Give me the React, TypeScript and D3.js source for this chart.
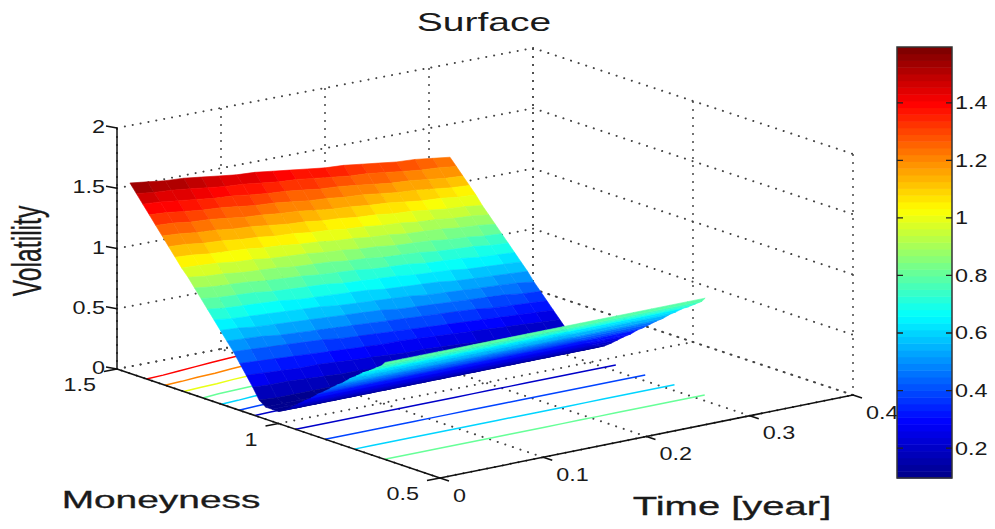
import React from 'react'
import * as d3 from 'd3'

// surface grid
const moneyness = [1.46, 1.44, 1.42, 1.4, 1.38, 1.36, 1.34, 1.32, 1.3, 1.28, 1.26, 1.24, 1.22, 1.2, 1.18, 1.16, 1.14, 1.12, 1.1, 1.08, 1.06, 1.04, 1.02, 1.0, 0.98, 0.96, 0.94, 0.92, 0.9, 0.88, 0.86, 0.84, 0.82, 0.8, 0.78, 0.76, 0.74, 0.72, 0.7, 0.68, 0.67]
const times = [0, 0.017, 0.034, 0.052, 0.069, 0.086, 0.103, 0.121, 0.138, 0.155, 0.172, 0.189, 0.207, 0.224, 0.241, 0.258, 0.276, 0.293, 0.31]
const vol = [
  [1.58, 1.56, 1.54, 1.53, 1.51, 1.49, 1.47, 1.46, 1.44, 1.42, 1.4, 1.38, 1.37, 1.35, 1.33, 1.31, 1.3, 1.28, 1.26],
  [1.51, 1.49, 1.48, 1.46, 1.44, 1.42, 1.41, 1.39, 1.37, 1.36, 1.34, 1.32, 1.3, 1.29, 1.27, 1.25, 1.23, 1.22, 1.2],
  [1.44, 1.43, 1.41, 1.39, 1.37, 1.36, 1.34, 1.32, 1.31, 1.29, 1.27, 1.26, 1.24, 1.22, 1.2, 1.19, 1.17, 1.15, 1.14],
  [1.37, 1.36, 1.34, 1.32, 1.31, 1.29, 1.27, 1.26, 1.24, 1.22, 1.21, 1.19, 1.18, 1.16, 1.14, 1.13, 1.11, 1.09, 1.08],
  [1.3, 1.29, 1.27, 1.26, 1.24, 1.22, 1.21, 1.19, 1.18, 1.16, 1.14, 1.13, 1.11, 1.1, 1.08, 1.06, 1.05, 1.03, 1.02],
  [1.23, 1.22, 1.2, 1.19, 1.17, 1.16, 1.14, 1.12, 1.11, 1.09, 1.08, 1.06, 1.05, 1.03, 1.02, 1.0, 0.98, 0.97, 0.95],
  [1.16, 1.15, 1.13, 1.12, 1.1, 1.09, 1.07, 1.06, 1.04, 1.03, 1.01, 1.0, 0.98, 0.97, 0.95, 0.94, 0.92, 0.91, 0.89],
  [1.09, 1.08, 1.06, 1.05, 1.04, 1.02, 1.01, 0.99, 0.98, 0.96, 0.95, 0.93, 0.92, 0.9, 0.89, 0.88, 0.86, 0.85, 0.83],
  [1.02, 1.01, 1.0, 0.98, 0.97, 0.95, 0.94, 0.93, 0.91, 0.9, 0.88, 0.87, 0.85, 0.84, 0.83, 0.81, 0.8, 0.78, 0.77],
  [0.96, 0.94, 0.93, 0.91, 0.9, 0.89, 0.87, 0.86, 0.85, 0.83, 0.82, 0.8, 0.79, 0.78, 0.76, 0.75, 0.74, 0.72, 0.71],
  [0.89, 0.87, 0.86, 0.85, 0.83, 0.82, 0.81, 0.79, 0.78, 0.77, 0.75, 0.74, 0.73, 0.71, 0.7, 0.69, 0.67, 0.66, 0.65],
  [0.82, 0.8, 0.79, 0.78, 0.76, 0.75, 0.74, 0.73, 0.71, 0.7, 0.69, 0.68, 0.66, 0.65, 0.64, 0.62, 0.61, 0.6, 0.59],
  [0.75, 0.73, 0.72, 0.71, 0.7, 0.68, 0.67, 0.66, 0.65, 0.64, 0.62, 0.61, 0.6, 0.59, 0.57, 0.56, 0.55, 0.54, 0.53],
  [0.68, 0.66, 0.65, 0.64, 0.63, 0.62, 0.61, 0.59, 0.58, 0.57, 0.56, 0.55, 0.53, 0.52, 0.51, 0.5, 0.49, 0.48, 0.46],
  [0.61, 0.6, 0.58, 0.57, 0.56, 0.55, 0.54, 0.53, 0.52, 0.51, 0.49, 0.48, 0.47, 0.46, 0.45, 0.44, 0.43, 0.41, 0.4],
  [0.54, 0.53, 0.52, 0.5, 0.49, 0.48, 0.47, 0.46, 0.45, 0.44, 0.43, 0.42, 0.41, 0.4, 0.39, 0.37, 0.36, 0.35, 0.34],
  [0.47, 0.46, 0.45, 0.44, 0.43, 0.42, 0.4, 0.39, 0.38, 0.37, 0.36, 0.35, 0.34, 0.33, 0.32, 0.31, 0.3, 0.29, 0.28],
  [0.39, 0.38, 0.37, 0.36, 0.35, 0.34, 0.33, 0.32, 0.31, 0.31, 0.3, 0.29, 0.28, 0.27, 0.26, 0.25, 0.24, 0.23, 0.22],
  [0.31, 0.3, 0.29, 0.28, 0.28, 0.27, 0.26, 0.25, 0.24, 0.23, 0.23, 0.22, 0.21, 0.2, 0.19, 0.18, 0.18, 0.17, 0.16],
  [0.23, 0.22, 0.22, 0.21, 0.2, 0.19, 0.19, 0.18, 0.17, 0.17, 0.16, 0.15, 0.14, 0.14, 0.13, 0.12, 0.12, 0.11, 0.1],
  [0.14, 0.13, 0.13, 0.13, 0.13, 0.13, 0.12, 0.12, 0.12, 0.12, 0.12, 0.12, 0.11, 0.11, 0.11, 0.11, 0.1, 0.1, 0.1],
  [0.1, 0.1, 0.1, 0.1, 0.1, 0.1, 0.1, 0.1, 0.1, 0.1, 0.1, 0.1, 0.1, 0.1, 0.1, 0.1, 0.1, 0.1, 0.1],
  [0.1, 0.1, 0.1, 0.1, 0.1, 0.1, 0.1, 0.1, 0.1, 0.1, 0.1, 0.1, 0.1, 0.1, 0.1, 0.1, 0.1, 0.1, 0.1],
  [0.1, 0.1, 0.1, 0.1, 0.1, 0.1, 0.1, 0.1, 0.1, 0.1, 0.1, 0.1, 0.1, 0.1, 0.1, 0.1, 0.1, 0.1, 0.1],
  [0.13, 0.13, 0.13, 0.13, 0.13, 0.13, 0.13, 0.13, 0.13, 0.13, 0.13, 0.13, 0.13, 0.13, 0.13, 0.13, 0.13, 0.13, 0.13],
  [0.17, 0.17, 0.17, 0.17, 0.17, 0.17, 0.17, 0.17, 0.17, 0.17, 0.17, 0.17, 0.17, 0.17, 0.17, 0.17, 0.17, 0.17, 0.17],
  [0.215, 0.215, 0.215, 0.215, 0.215, 0.215, 0.215, 0.215, 0.215, 0.215, 0.215, 0.215, 0.215, 0.215, 0.215, 0.215, 0.215, 0.215, 0.215],
  [0.26, 0.26, 0.26, 0.26, 0.26, 0.26, 0.26, 0.26, 0.26, 0.26, 0.26, 0.26, 0.26, 0.26, 0.26, 0.26, 0.26, 0.26, 0.26],
  [0.3, 0.3, 0.3, 0.3, 0.3, 0.3, 0.3, 0.3, 0.3, 0.3, 0.3, 0.3, 0.3, 0.3, 0.3, 0.3, 0.3, 0.3, 0.3],
  [0.35, 0.35, 0.35, 0.35, 0.35, 0.35, 0.35, 0.35, 0.35, 0.35, 0.35, 0.35, 0.35, 0.35, 0.35, 0.35, 0.35, 0.35, 0.35],
  [0.39, 0.39, 0.39, 0.39, 0.39, 0.39, 0.39, 0.39, 0.39, 0.39, 0.39, 0.39, 0.39, 0.39, 0.39, 0.39, 0.39, 0.39, 0.39],
  [0.435, 0.435, 0.435, 0.435, 0.435, 0.435, 0.435, 0.435, 0.435, 0.435, 0.435, 0.435, 0.435, 0.435, 0.435, 0.435, 0.435, 0.435, 0.435],
  [0.48, 0.48, 0.48, 0.48, 0.48, 0.48, 0.48, 0.48, 0.48, 0.48, 0.48, 0.48, 0.48, 0.48, 0.48, 0.48, 0.48, 0.48, 0.48],
  [0.52, 0.52, 0.52, 0.52, 0.52, 0.52, 0.52, 0.52, 0.52, 0.52, 0.52, 0.52, 0.52, 0.52, 0.52, 0.52, 0.52, 0.52, 0.52],
  [0.57, 0.57, 0.57, 0.57, 0.57, 0.57, 0.57, 0.57, 0.57, 0.57, 0.57, 0.57, 0.57, 0.57, 0.57, 0.57, 0.57, 0.57, 0.57],
  [0.61, 0.61, 0.61, 0.61, 0.61, 0.61, 0.61, 0.61, 0.61, 0.61, 0.61, 0.61, 0.61, 0.61, 0.61, 0.61, 0.61, 0.61, 0.61],
  [0.655, 0.655, 0.655, 0.655, 0.655, 0.655, 0.655, 0.655, 0.655, 0.655, 0.655, 0.655, 0.655, 0.655, 0.655, 0.655, 0.655, 0.655, 0.655],
  [0.69, 0.69, 0.69, 0.69, 0.69, 0.69, 0.69, 0.69, 0.69, 0.69, 0.69, 0.69, 0.69, 0.69, 0.69, 0.69, 0.69, 0.69, 0.69],
  [0.73, 0.73, 0.73, 0.73, 0.73, 0.73, 0.73, 0.73, 0.73, 0.73, 0.73, 0.73, 0.73, 0.73, 0.73, 0.73, 0.73, 0.73, 0.73],
  [0.77, 0.77, 0.77, 0.77, 0.77, 0.77, 0.77, 0.77, 0.77, 0.77, 0.77, 0.77, 0.77, 0.77, 0.77, 0.77, 0.77, 0.77, 0.77],
  [0.805, 0.805, 0.805, 0.805, 0.805, 0.805, 0.805, 0.805, 0.805, 0.805, 0.805, 0.805, 0.805, 0.805, 0.805, 0.805, 0.805, 0.805, 0.805],
]

const contourLevels = [0.2, 0.4, 0.6, 0.8, 1, 1.2, 1.4]
const timeTicks = [0, 0.1, 0.2, 0.3, 0.4]
const moneyTicks = [0.5, 1, 1.5]
const volTicks = [0, 0.5, 1, 1.5, 2]
const colorbarTicks = [0.2, 0.4, 0.6, 0.8, 1, 1.2, 1.4]
const colorDomain = [0.096, 1.594]

// oblique view: each data axis gets its own pixel scales
const tx = d3.scaleLinear().domain([0, 0.4]).range([0, 413])
const ty = d3.scaleLinear().domain([0, 0.4]).range([0, -83])
const mx = d3.scaleLinear().domain([0.5, 1.5]).range([440, 117])
const my = d3.scaleLinear().domain([0.5, 1.5]).range([478, 369])
const zy = d3.scaleLinear().domain([0, 2]).range([0, -241])
const cbY = d3.scaleLinear().domain(colorDomain).range([478, 47])

const project = (t: number, m: number, z: number): [number, number] => [
  mx(m) + tx(t),
  my(m) + ty(t) + zy(z),
]
// the box has a little perspective towards its far corner
const projectBox = (t: number, m: number, z: number): [number, number] => {
  const warp = 3 * (m - 0.5) * (t / 0.4)
  const [x, y] = project(t, m, z)
  return [x + warp, y + warp]
}

const jetRamp = d3.scaleLinear<string>()
  .domain([0, 0.125, 0.375, 0.625, 0.875, 1])
  .range(['#00008f', '#0000ff', '#00ffff', '#ffff00', '#ff0000', '#800000'])
  .clamp(true)
const levelCount = 64
const colorIndex = d3.scaleQuantize<number>().domain(colorDomain).range(d3.range(levelCount))
const jet = (v: number) => jetRamp(colorIndex(v) / (levelCount - 1))

const line = d3.line()
const path3 = (pts: [number, number, number][]) => line(pts.map(p => project(p[0], p[1], p[2]))) || ''
const pathBox = (pts: [number, number, number][]) => line(pts.map(p => projectBox(p[0], p[1], p[2]))) || ''

// walk the time columns, find where a level crosses between two moneyness rows
function contourLines(level: number) {
  const falling: [number, number, number][] = []
  const rising: [number, number, number][] = []
  times.forEach((t, j) => {
    for (let i = 0; i < moneyness.length - 1; i++) {
      const a = vol[i][j]
      const b = vol[i + 1][j]
      if (a === b) continue
      const f = (level - a) / (b - a)
      if (f < 0 || f > 1) continue
      const m = moneyness[i] + f * (moneyness[i + 1] - moneyness[i])
      if (a > b) falling.push([t, m, 0])
      else rising.push([t, m, 0])
    }
  })
  return [falling, rising].filter(l => l.length > 1)
}

const facets = d3.range(moneyness.length - 1).flatMap(i =>
  d3.range(times.length - 1).reverse().map(j => ({
    key: `${i}-${j}`,
    color: jet((vol[i][j] + vol[i + 1][j] + vol[i][j + 1] + vol[i + 1][j + 1]) / 4),
    d: path3([
      [times[j], moneyness[i], vol[i][j]],
      [times[j + 1], moneyness[i], vol[i][j + 1]],
      [times[j + 1], moneyness[i + 1], vol[i + 1][j + 1]],
      [times[j], moneyness[i + 1], vol[i + 1][j]],
    ]) + 'Z',
  }))
)

const FONT = '"Liberation Sans", Arial, sans-serif'

function Label({ x, y, text, size = 18, sx = 1.3, sy = 1, rot = 0, anchor = 'middle', bold = 0 }: any) {
  return (
    <text
      transform={`translate(${x},${y}) scale(${sx},${sy}) rotate(${rot})`}
      fontFamily={FONT}
      fontSize={size}
      textAnchor={anchor}
      fill="#1a1a1a"
      stroke={bold ? '#1a1a1a' : 'none'}
      strokeWidth={bold}
    >
      {text}
    </text>
  )
}

const gridStyle = { stroke: '#444', strokeWidth: 2, strokeDasharray: '0.1 7.9', strokeLinecap: 'round' as const, fill: 'none' }

export default function App() {
  const t0 = timeTicks[0]
  const t1 = timeTicks[timeTicks.length - 1]
  const m0 = moneyTicks[0]
  const m1 = moneyTicks[moneyTicks.length - 1]
  const z0 = volTicks[0]
  const z1 = volTicks[volTicks.length - 1]

  const grid: string[] = []
  timeTicks.forEach(t => {
    grid.push(pathBox([[t, m0, z0], [t, m1, z0]]))
    grid.push(pathBox([[t, m1, z0], [t, m1, z1]]))
  })
  moneyTicks.forEach(m => {
    grid.push(pathBox([[t0, m, z0], [t1, m, z0]]))
    grid.push(pathBox([[t1, m, z0], [t1, m, z1]]))
  })
  volTicks.forEach(z => {
    grid.push(pathBox([[t0, m1, z], [t1, m1, z]]))
    grid.push(pathBox([[t1, m1, z], [t1, m0, z]]))
  })

  return (
    <svg width={995} height={529} style={{ position: 'absolute', left: 0, top: 0, background: '#fff' }}>
      <g>{grid.map((d, i) => <path key={i} d={d} {...gridStyle} />)}</g>

      <g fill="none" strokeWidth={1.5}>
        {contourLevels.flatMap(level =>
          contourLines(level).map((pts, i) => (
            <path key={`${level}-${i}`} d={path3(pts)} stroke={jet(level)} />
          ))
        )}
      </g>

      <g>{facets.map(f => <path key={f.key} d={f.d} fill={f.color} stroke={f.color} strokeWidth={0.6} />)}</g>

      <g fill="none" stroke="#111" strokeWidth={1.5}>
        <path d={path3([[t0, m1, z0], [t0, m1, z1]])} />
        <path d={path3([[t0, m0, z0], [t0, m1, z0]])} />
        <path d={path3([[t0, m0, z0], [t1, m0, z0]])} />
        {volTicks.map(z => {
          const [x, y] = project(t0, m1, z)
          return <path key={z} d={`M${x},${y}L${x - 11},${y - 2}`} />
        })}
        {moneyTicks.map(m => {
          const [x, y] = project(t0, m, z0)
          return <path key={m} d={`M${x},${y}L${x - 13},${y + 2.5}`} />
        })}
        {timeTicks.map(t => {
          const [x, y] = project(t, m0, z0)
          return <path key={t} d={`M${x},${y}L${x + 9},${y + 3}`} />
        })}
      </g>

      {volTicks.map(z => {
        const [x, y] = project(t0, m1, z)
        return <Label key={z} x={x - 12} y={y + 5} text={String(z)} anchor="end" />
      })}
      {moneyTicks.map(m => {
        const [x, y] = project(t0, m, z0)
        return <Label key={m} x={x - 21} y={y + 22} text={String(m)} anchor="end" />
      })}
      {timeTicks.map(t => {
        const [x, y] = project(t, m0, z0)
        return <Label key={t} x={x + 13} y={y + 23.5} text={String(t)} anchor="start" />
      })}

      <Label x={484} y={31} text="Surface" size={26} sx={1.5} />
      <Label x={161} y={508} text="Moneyness" size={24} sx={1.62} bold={0.3} />
      <Label x={732} y={515} text="Time [year]" size={25} sx={1.6} bold={0.3} />
      <Label x={41} y={251} text="Volatility" size={24} sx={1.7} sy={1.03} rot={-90} bold={0.2} />

      <g>
        {d3.range(levelCount).map(i => {
          const lo = colorDomain[0] + (i * (colorDomain[1] - colorDomain[0])) / levelCount
          const hi = colorDomain[0] + ((i + 1) * (colorDomain[1] - colorDomain[0])) / levelCount
          return (
            <rect key={i} x={897} width={55} y={cbY(hi)} height={cbY(lo) - cbY(hi) + 0.5} fill={jet((lo + hi) / 2)} />
          )
        })}
        <rect x={897} y={47} width={55} height={431} fill="none" stroke="#333" strokeWidth={1.5} />
        {colorbarTicks.map(v => (
          <g key={v}>
            <path d={`M897,${cbY(v)}h6M952,${cbY(v)}h-6`} stroke="#222" strokeWidth={1.3} />
            <Label x={955} y={cbY(v) + 6.5} text={String(v)} anchor="start" />
          </g>
        ))}
      </g>
    </svg>
  )
}
